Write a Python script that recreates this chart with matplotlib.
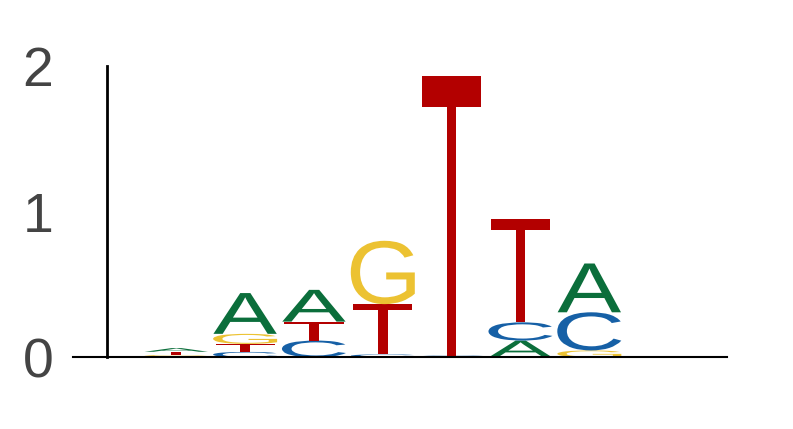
import matplotlib
matplotlib.use("Agg")
import matplotlib.pyplot as plt
from matplotlib.textpath import TextPath
from matplotlib.font_manager import FontProperties
from matplotlib.patches import PathPatch
from matplotlib.transforms import Affine2D

# Data: information content (bits) per letter at each position
positions = [1, 2, 3, 4, 5, 6, 7]
A = [0.025, 0.280, 0.218, 0.000, 0.000, 0.115, 0.335]
C = [0.000, 0.037, 0.115, 0.020, 0.012, 0.125, 0.262]
G = [0.016, 0.069, 0.000, 0.435, 0.000, 0.000, 0.047]
T = [0.022, 0.055, 0.130, 0.345, 1.920, 0.710, 0.000]
yticks = [0, 1, 2]
ytick_labels = ["0", "1", "2"]

colors = {"A": "#0b6e3b", "C": "#1660a6", "G": "#ecc232", "T": "#b30000"}
letters = {"A": A, "C": C, "G": G, "T": T}
widths = {"A": 0.92, "C": 0.93, "G": 0.93, "T": 0.86}

fig = plt.figure(figsize=(7.93, 4.29), dpi=100)
ax = fig.add_axes([73 / 793, (429 - 357.3) / 429, 654 / 793, 291.3 / 429])

fp = FontProperties(family="Liberation Sans")

def draw_letter(ch, x, y0, h, color):
    w = widths[ch]
    path = TextPath((0, 0), ch, size=1, prop=fp)
    bb = path.get_extents()
    tr = (Affine2D()
          .translate(-bb.x0, -bb.y0)
          .scale(w / bb.width, h / bb.height)
          .translate(x - w / 2, y0))
    patch = PathPatch(tr.transform_path(path), facecolor=color,
                      edgecolor="none", zorder=3)
    ax.add_patch(patch)

for i, x in enumerate(positions):
    vals = [(letters[k][i], k) for k in "ACGT" if letters[k][i] > 0]
    vals.sort()
    y = 0.0
    for v, k in vals:
        draw_letter(k, x, y, v, colors[k])
        y += v

ax.set_xlim(-0.5, 9)
ax.set_ylim(0, 2)
ax.axhline(0, color="black", lw=1.5, clip_on=False, zorder=4)

for s in ["top", "right", "bottom"]:
    ax.spines[s].set_visible(False)
ax.spines["left"].set_position(("data", 0))
ax.spines["left"].set_bounds(0, 2)
ax.spines["left"].set_linewidth(2.0)
ax.set_xticks([])
ax.set_yticks(yticks)
ax.set_yticklabels(ytick_labels, fontsize=40, color="#444444",
                   family="Liberation Sans")
ax.tick_params(axis="y", length=0, pad=39)

fig.savefig("out.png", dpi=100)
